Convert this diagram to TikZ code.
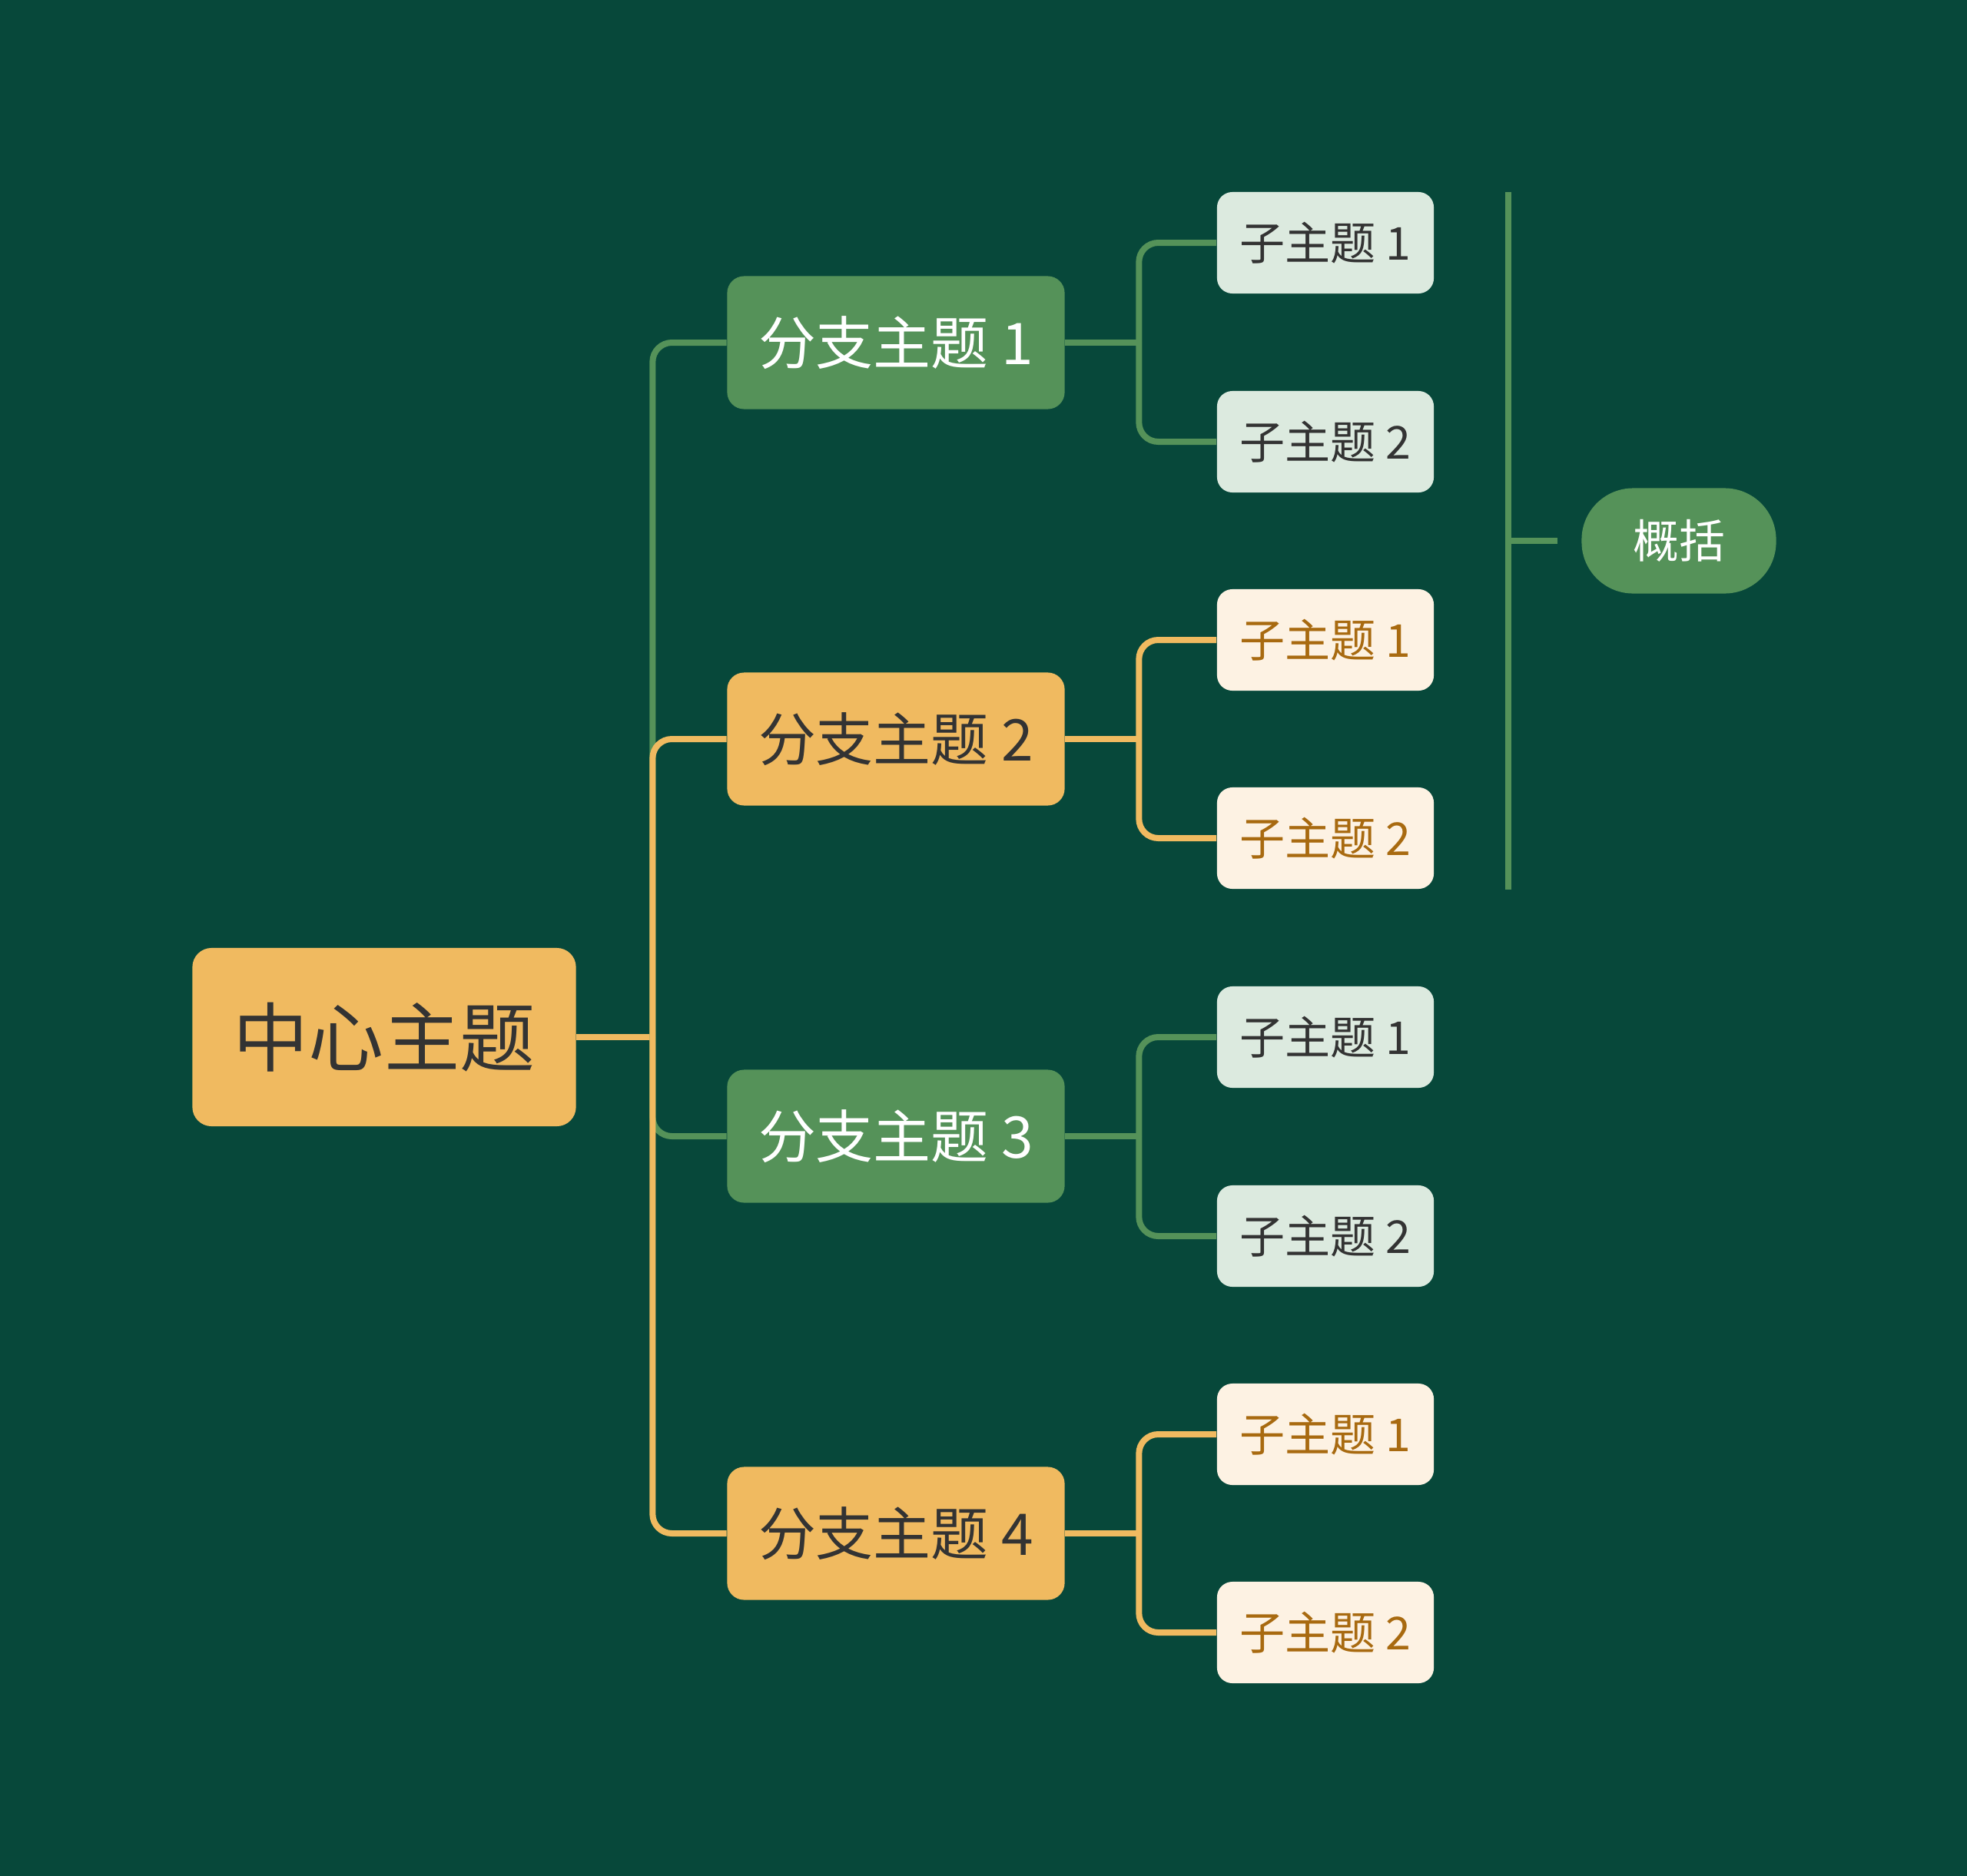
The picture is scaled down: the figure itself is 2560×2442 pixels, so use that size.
\documentclass[tikz,border=0pt]{standalone}
\usepackage{fontspec}
\setmainfont{Noto Sans CJK SC}
\usetikzlibrary{calc}
\definecolor{bg}{HTML}{07483A}
\definecolor{gr}{HTML}{559259}
\definecolor{orn}{HTML}{F0BA60}
\definecolor{lgr}{HTML}{DCEADF}
\definecolor{crm}{HTML}{FDF2E3}
\definecolor{brn}{HTML}{A86A10}
\definecolor{dk}{HTML}{333333}
\tikzset{
  base/.style={inner sep=0pt, align=center},
  central/.style={base, fill=orn, text=dk, rounded corners=0.25cm, minimum width=4.99cm, minimum height=2.32cm, font=\fontsize{27.9pt}{30pt}\selectfont},
  brg/.style={base, fill=gr, text=white, rounded corners=0.22cm, minimum width=4.39cm, minimum height=1.73cm, font=\fontsize{21.3pt}{24pt}\selectfont},
  bro/.style={base, fill=orn, text=dk, rounded corners=0.22cm, minimum width=4.39cm, minimum height=1.73cm, font=\fontsize{21.3pt}{24pt}\selectfont},
  subg/.style={base, fill=lgr, text=dk, rounded corners=0.2cm, minimum width=2.82cm, minimum height=1.32cm, font=\fontsize{16.8pt}{19pt}\selectfont},
  subo/.style={base, fill=crm, text=brn, rounded corners=0.2cm, minimum width=2.82cm, minimum height=1.32cm, font=\fontsize{16.8pt}{19pt}\selectfont},
  summ/.style={base, fill=gr, text=white, rounded corners=0.67cm, minimum width=2.53cm, minimum height=1.37cm, font=\fontsize{17pt}{19pt}\selectfont},
  lng/.style={draw=gr, line width=0.08cm},
  lno/.style={draw=orn, line width=0.08cm},
  rc/.style={rounded corners=0.25cm}
}
\begin{document}
\begin{tikzpicture}[x=0.01cm,y=-0.01cm]
\fill[bg] (0,0) rectangle (2560,2442);
\useasboundingbox (0,0) rectangle (2560,2442);

\node[central] (c) at (500,1350) {中心主题};
\node[brg] (b1) at (1166,446) {分支主题 1};
\node[bro] (b2) at (1166,962) {分支主题 2};
\node[brg] (b3) at (1166,1479) {分支主题 3};
\node[bro] (b4) at (1166,1996) {分支主题 4};

\node[subg] (s11) at (1725,316) {子主题 1};
\node[subg] (s12) at (1725,575) {子主题 2};
\node[subo] (s21) at (1725,833) {子主题 1};
\node[subo] (s22) at (1725,1091) {子主题 2};
\node[subg] (s31) at (1725,1350) {子主题 1};
\node[subg] (s32) at (1725,1609) {子主题 2};
\node[subo] (s41) at (1725,1867) {子主题 1};
\node[subo] (s42) at (1725,2125) {子主题 2};

\node[summ] (sm) at (2185,704) {概括};

% trunk
\coordinate (tj) at ($(c.east)+(99,0)$);
\draw[lno] (c.east) -- (tj);
\draw[lng,rc] (tj) |- (b1.west);
\draw[lno,rc] (tj) |- (b2.west);
\draw[lng,rc] (tj) |- (b3.west);
\draw[lno,rc] (tj) |- (b4.west);

% sub connectors
\coordinate (j1) at ($(b1.east)+(96,0)$);
\coordinate (j2) at ($(b2.east)+(96,0)$);
\coordinate (j3) at ($(b3.east)+(96,0)$);
\coordinate (j4) at ($(b4.east)+(96,0)$);
\draw[lng] (b1.east) -- (j1);
\draw[lng,rc] (j1) |- (s11.west);
\draw[lng,rc] (j1) |- (s12.west);
\draw[lno] (b2.east) -- (j2);
\draw[lno,rc] (j2) |- (s21.west);
\draw[lno,rc] (j2) |- (s22.west);
\draw[lng] (b3.east) -- (j3);
\draw[lng,rc] (j3) |- (s31.west);
\draw[lng,rc] (j3) |- (s32.west);
\draw[lno] (b4.east) -- (j4);
\draw[lno,rc] (j4) |- (s41.west);
\draw[lno,rc] (j4) |- (s42.west);

% summary bracket
\coordinate (bt) at (1963,250);
\coordinate (bb) at (1963,1158);
\coordinate (bm) at (1963,704);
\coordinate (be) at (2027,704);
\draw[lng] (bt) -- (bb);
\draw[lng] (bm) -- (be);
\end{tikzpicture}
\end{document}
